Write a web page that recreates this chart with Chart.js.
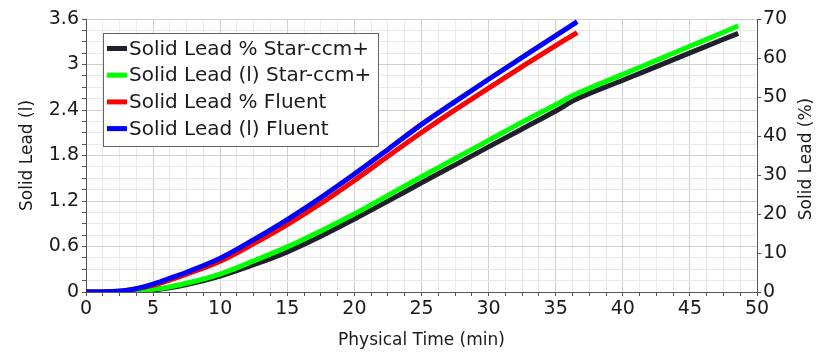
<!DOCTYPE html>
<html>
<head>
<meta charset="utf-8">
<script src="https://cdn.jsdelivr.net/npm/chart.js@4/dist/chart.umd.min.js"></script>
<style>
  html, body { margin: 0; padding: 0; background: #fff; }
  #wrap { width: 819px; height: 356px; position: relative; }
</style>
</head>
<body>
<div id="wrap"><canvas id="grafico"></canvas></div>
<script>
// Tempo (min) de cada simulação
const timeFluent = [0, 1, 2, 3, 4, 5, 6, 7.5, 10, 12.5, 15, 17.5, 20, 22.5, 25, 27.5, 30, 32.5, 35, 36.6];
const timeStar   = [0, 1, 2, 3, 4, 5, 6, 7.5, 10, 12.5, 15, 17.5, 20, 22.5, 25, 27.5, 30, 32.5, 35, 36.4, 40, 42.5, 45, 47.5, 48.6];

// Star-ccm+
const pctStar  = [0, 0, 0, 0.03, 0.15, 0.5, 0.95, 1.9, 4.1, 7.0, 10.3, 14.3, 18.7, 23.3, 28.0, 32.6, 37.2, 41.8, 46.4, 49.2, 54.3, 57.8, 61.3, 64.8, 66.3];
const litStar  = [0, 0, 0, 0.003, 0.012, 0.035, 0.06, 0.115, 0.237, 0.41, 0.595, 0.805, 1.03, 1.275, 1.52, 1.76, 2.0, 2.24, 2.47, 2.6, 2.87, 3.055, 3.24, 3.425, 3.51];

// Fluent
const pctFluent = [0, 0, 0.1, 0.4, 1.0, 1.7, 2.8, 4.6, 7.9, 12.4, 17.3, 22.7, 28.6, 34.8, 40.9, 46.7, 52.3, 57.8, 63.2, 66.5];
const litFluent = [0, 0, 0.005, 0.02, 0.055, 0.105, 0.165, 0.26, 0.445, 0.69, 0.955, 1.245, 1.555, 1.88, 2.21, 2.51, 2.805, 3.095, 3.38, 3.566];

const seriesLabels = ['Solid Lead % Star-ccm+', 'Solid Lead (l) Star-ccm+', 'Solid Lead % Fluent', 'Solid Lead (l) Fluent'];

const FONT  = "'DejaVu Sans', sans-serif";
const TEXT  = '#1a1a1a';
const AXIS  = '#555';
const MAJOR = '#cfcfcf';
const MINOR = '#e9e9e9';

const pts = (xs, ys) => xs.map((x, i) => ({ x: x, y: ys[i] }));
const isMult = (v, step) => { const r = v / step; return Math.abs(r - Math.round(r)) < 1e-6; };

// legenda com moldura dentro da área do gráfico + título do eixo direito
const legendaCaixa = {
    id: 'legendaCaixa',
    afterDraw(chart) {
        const ctx = chart.ctx;
        const x0 = 103.5, y0 = 33.5, w = 275, h = 113;
        ctx.save();
        ctx.fillStyle = '#fff';
        ctx.fillRect(x0, y0, w, h);
        ctx.strokeStyle = '#666';
        ctx.lineWidth = 1;
        ctx.strokeRect(x0, y0, w, h);
        ctx.font = '20px ' + FONT;
        ctx.textBaseline = 'middle';
        chart.data.datasets.forEach((ds, i) => {
            const yc = 48.5 + i * 26.7;
            ctx.fillStyle = ds.borderColor;
            ctx.fillRect(107, yc - 2.5, 20, 5);
            ctx.fillStyle = TEXT;
            ctx.fillText(ds.label, 129, yc + 1);
        });
        ctx.translate(807, 159);
        ctx.rotate(-Math.PI / 2);
        ctx.textAlign = 'center';
        ctx.font = '17px ' + FONT;
        ctx.fillText('Solid Lead (%)', 0, 0);
        ctx.restore();
    }
};

const canvas = document.getElementById('grafico');
const chart = new Chart(canvas.getContext('2d'), {
    type: 'line',
    data: {
        datasets: [
            { label: seriesLabels[0], data: pts(timeStar, pctStar),    yAxisID: 'y2', borderColor: '#20202c', order: 3 },
            { label: seriesLabels[1], data: pts(timeStar, litStar),    yAxisID: 'y',  borderColor: '#00ff00', order: 2 },
            { label: seriesLabels[2], data: pts(timeFluent, pctFluent), yAxisID: 'y2', borderColor: '#ff0000', order: 1 },
            { label: seriesLabels[3], data: pts(timeFluent, litFluent), yAxisID: 'y',  borderColor: '#0000ff', order: 0 }
        ]
    },
    options: {
        responsive: true,
        maintainAspectRatio: false,
        animation: false,
        layout: { padding: { top: 19, left: 0, right: 0, bottom: 0 } },
        elements: {
            line: { borderWidth: 5, cubicInterpolationMode: 'monotone', fill: false },
            point: { radius: 0, hoverRadius: 0 }
        },
        plugins: {
            legend: { display: false },
            tooltip: { enabled: false }
        },
        scales: {
            x: {
                type: 'linear',
                min: 0, max: 50,
                afterFit: s => { s.height = 64; },
                ticks: {
                    stepSize: 1.25, autoSkip: false, maxRotation: 0, padding: 2,
                    color: TEXT, font: { family: FONT, size: 19 },
                    callback: v => isMult(v, 5) ? String(v) : ''
                },
                grid: {
                    color: c => isMult(c.tick.value, 5) ? MAJOR : MINOR,
                    tickColor: AXIS, tickLength: 4
                },
                border: { color: AXIS },
                title: {
                    display: true, text: 'Physical Time (min)', color: TEXT,
                    font: { family: FONT, size: 17 }, padding: { top: 0, bottom: 5 }
                }
            },
            y: {
                type: 'linear', position: 'left',
                min: 0, max: 3.6,
                afterFit: s => { s.width = 86; },
                ticks: {
                    stepSize: 0.15, autoSkip: false, padding: 3,
                    color: TEXT, font: { family: FONT, size: 19 },
                    callback: v => isMult(v, 0.6) ? String(+v.toFixed(1)) : ''
                },
                grid: {
                    color: c => isMult(c.tick.value, 0.6) ? MAJOR : MINOR,
                    tickColor: AXIS, tickLength: 4
                },
                border: { color: AXIS },
                title: {
                    display: true, text: 'Solid Lead (l)', color: TEXT,
                    font: { family: FONT, size: 17 }, padding: { top: 17, bottom: 0 }
                }
            },
            y2: {
                type: 'linear', position: 'right',
                min: 0, max: 70,
                afterFit: s => { s.width = 62; },
                ticks: {
                    stepSize: 10, padding: 2,
                    color: TEXT, font: { family: FONT, size: 19 }
                },
                grid: { drawOnChartArea: false, tickColor: AXIS, tickLength: 4 },
                border: { color: AXIS }
            }
        }
    },
    plugins: [legendaCaixa]
});
</script>
</body>
</html>
